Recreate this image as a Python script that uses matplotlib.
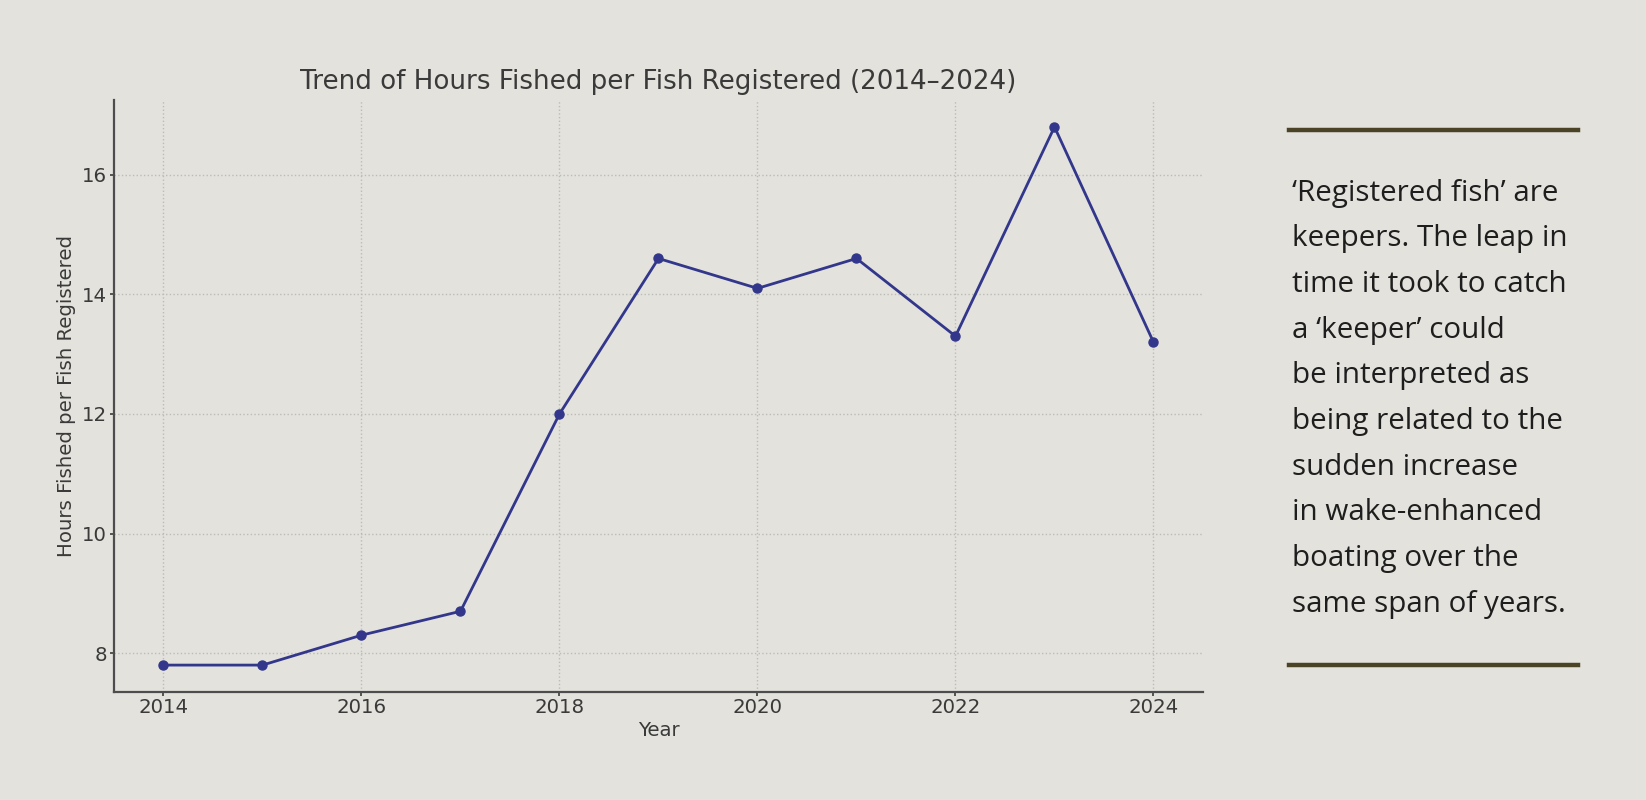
import matplotlib.pyplot as plt

# data
years = [2014, 2015, 2016, 2017, 2018, 2019, 2020, 2021, 2022, 2023, 2024]
hours_per_fish = [7.8, 7.8, 8.3, 8.7, 12.0, 14.6, 14.1, 14.6, 13.3, 16.8, 13.2]
x_ticks = [2014, 2016, 2018, 2020, 2022, 2024]
y_ticks = [8, 10, 12, 14, 16]

note_lines = [
    "\u2018Registered fish\u2019 are",
    "keepers. The leap in",
    "time it took to catch",
    "a \u2018keeper\u2019 could",
    "be interpreted as",
    "being related to the",
    "sudden increase",
    "in wake-enhanced",
    "boating over the",
    "same span of years.",
]

plt.rcParams["font.family"] = ["DejaVu Sans"]

BG = "#e3e2dc"
LINE_COLOR = "#33378c"
TEXT_COLOR = "#3a3a3a"

W, H = 1646, 800
fig = plt.figure(figsize=(W / 100, H / 100), dpi=100, facecolor=BG)
ax = fig.add_axes([114 / W, 1 - 692 / H, (1203 - 114) / W, (692 - 100) / H])
ax.set_facecolor(BG)

ax.plot(years, hours_per_fish, color=LINE_COLOR, linewidth=2.0,
        marker="o", markersize=6.5)

ax.set_xticks(x_ticks)
ax.set_yticks(y_ticks)
ax.tick_params(labelsize=14.2, colors=TEXT_COLOR, length=3, width=1.2, pad=2)
ax.tick_params(axis="x", pad=1)
ax.grid(True, color="#bcbcb7", linestyle=":", linewidth=1.0)
for side in ("top", "right"):
    ax.spines[side].set_visible(False)
for side in ("left", "bottom"):
    ax.spines[side].set_color("#4d4d4d")
    ax.spines[side].set_linewidth(1.6)

ax.set_title("Trend of Hours Fished per Fish Registered (2014\u20132024)",
             fontsize=18.8, color=TEXT_COLOR, pad=8)
ax.set_xlabel("Year", fontsize=14.2, color=TEXT_COLOR, labelpad=3)
ax.set_ylabel("Hours Fished per Fish Registered", fontsize=14.2,
              color=TEXT_COLOR, labelpad=4)

# side note with rules above and below
rule_color = "#4a4326"
for y_px in (130, 665):
    fig.add_artist(plt.Line2D([1289 / W, 1578 / W], [1 - y_px / H] * 2,
                              color=rule_color, linewidth=3.2))
for i, line in enumerate(note_lines):
    fig.text(1292 / W, 1 - (193 + i * 45.7) / H, line, fontsize=21.3,
             family="Open Sans", color="#1e1e1e", va="center", ha="left")

fig.savefig("out.png", dpi=100, facecolor=BG)
